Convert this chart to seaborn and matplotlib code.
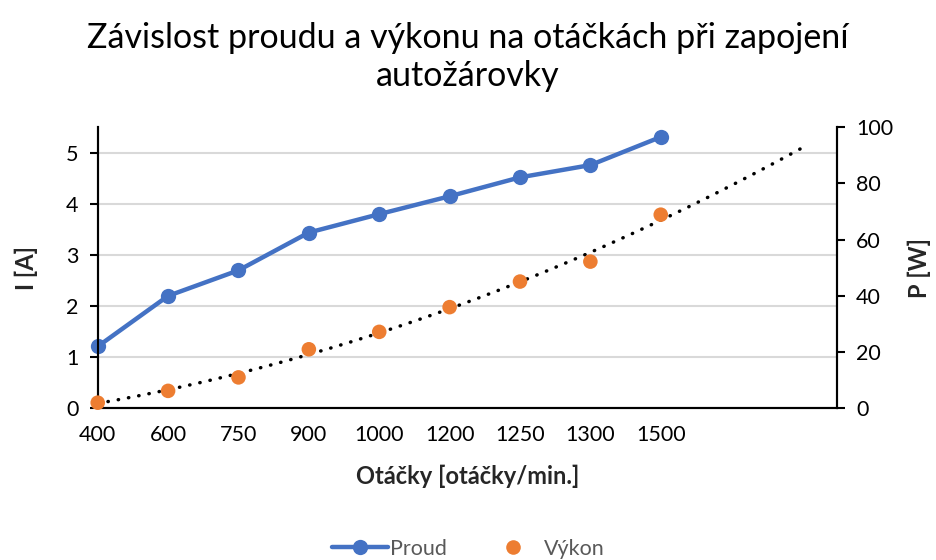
import numpy as np
import pandas as pd
import seaborn as sns
import matplotlib.pyplot as plt
from matplotlib.lines import Line2D

# data
otacky = ["400", "600", "750", "900", "1000", "1200", "1250", "1300", "1500"]
proud = [1.21, 2.20, 2.70, 3.44, 3.80, 4.15, 4.52, 4.76, 5.31]
vykon = [2.0, 6.2, 11.0, 21.0, 27.2, 36.0, 45.1, 52.2, 68.9]
extra_categories = 2   # empty categories used by the trendline forecast

sns.set_theme(style="white")
plt.rcParams["font.family"] = ["Lato", "DejaVu Sans"]

blue = "#4472C4"
orange = "#ED7D31"

df = pd.DataFrame({"idx": np.arange(len(otacky)), "proud": proud, "vykon": vykon})

# polynomial (2nd order) trendline, forecast two periods forward
coef = np.polyfit(df["idx"] + 1, df["vykon"], 2)
tx = np.linspace(1, len(otacky) + extra_categories, 200)
trend = pd.DataFrame({"idx": tx - 1, "val": np.polyval(coef, tx)})

fig = plt.figure(figsize=(9.36, 5.6), dpi=100)
ax = fig.add_axes([0.1044, 0.2709, 0.7895, 0.5018])
ax2 = ax.twinx()

sns.lineplot(data=df, x="idx", y="proud", ax=ax, color=blue, linewidth=3.2,
             marker="o", markersize=11, markeredgewidth=0, zorder=5, clip_on=False)
sns.lineplot(data=trend, x="idx", y="val", ax=ax2, color="black",
             linewidth=2.5, linestyle=(0, (0.1, 2.9)), dash_capstyle="round", zorder=3)
sns.scatterplot(data=df, x="idx", y="vykon", ax=ax2, color=orange, s=110,
                edgecolor="none", zorder=4, clip_on=False)

n = len(otacky) + extra_categories
ax.set_xlim(0, n - 0.5)
ax.set_ylim(0, 5.5)
ax2.set_ylim(0, 100)
ax.set_xticks(range(n))
ax.set_xticklabels(otacky + [""] * extra_categories)
ax.set_yticks(range(0, 6))
ax2.set_yticks(range(0, 101, 20))

ax.yaxis.grid(True, color="#d9d9d9", linewidth=1.5)
ax.set_axisbelow(True)
for a in (ax, ax2):
    a.spines["top"].set_visible(False)
    for s in ("left", "right", "bottom"):
        a.spines[s].set_color("black")
        a.spines[s].set_linewidth(1.5)
    a.tick_params(axis="both", which="major", length=6, width=1.5, color="black",
                  labelsize=15.5, labelcolor="#000000", direction="out")
ax.tick_params(axis="x", pad=6)
ax.tick_params(axis="y", pad=8)
ax2.tick_params(axis="y", pad=8)

ax.set_xlabel("Otáčky [otáčky/min.]", fontsize=17, fontweight="bold", labelpad=14)
ax.set_ylabel("I [A]", fontsize=17, fontweight="bold", labelpad=20)
ax2.set_ylabel("P [W]", fontsize=17, fontweight="bold", labelpad=10, rotation=90)

fig.suptitle("Závislost proudu a výkonu na otáčkách při zapojení\nautožárovky",
             fontsize=24.5, y=0.96, color="#000000", linespacing=1.2)

handles = [
    Line2D([], [], color=blue, linewidth=3.2, marker="o", markersize=11, markeredgewidth=0),
    Line2D([], [], color=orange, linestyle="none", marker="o", markersize=10.5, markeredgewidth=0),
]
fig.legend(handles, ["Proud", "Výkon"], loc="center", bbox_to_anchor=(0.5, 0.02),
           ncol=2, frameon=False, fontsize=15.5, labelcolor="#595959",
           handlelength=2.6, handletextpad=0.1, columnspacing=1.8)

fig.savefig("out.png", dpi=100)
